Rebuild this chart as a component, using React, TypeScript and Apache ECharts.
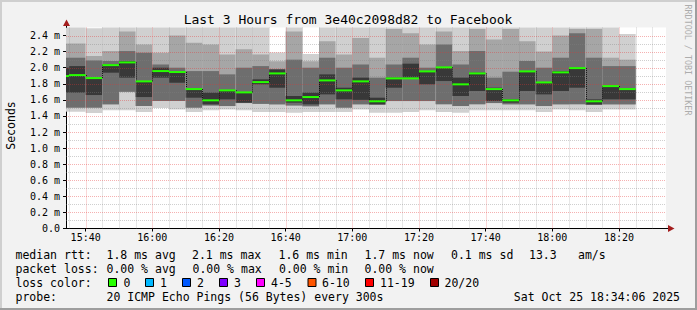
import React, { useEffect, useRef } from "react";
import * as echarts from "echarts";

// ---------- data (times are HH:MM, values in milliseconds) ----------
const WINDOW_START = "15:34:06";
const WINDOW_HOURS = 3;

const barStarts = [
  "15:30", "15:35", "15:40", "15:45", "15:50", "15:55", "16:00", "16:05", "16:10", "16:15",
  "16:20", "16:25", "16:30", "16:35", "16:40", "16:45", "16:50", "16:55", "17:00", "17:05",
  "17:10", "17:15", "17:20", "17:25", "17:30", "17:35", "17:40", "17:45", "17:50", "17:55",
  "18:00", "18:05", "18:10", "18:15", "18:20",
];
const BAR_MINUTES = 5;

const medianMs = [1.896, 1.908, 1.871, 2.032, 2.066, 1.83, 1.958, 1.946, 1.734, 1.594, 1.718, 1.693, 1.821, 1.929, 1.594, 1.635, 1.842, 1.718, 1.83, 1.582, 1.867, 1.867, 1.954, 2.004, 1.793, 1.929, 1.734, 1.594, 1.954, 1.817, 1.942, 1.995, 1.582, 1.771, 1.734];
const maxMs = [2.5, 2.5, 2.49, 2.5, 2.5, 2.5, 2.5, 2.5, 2.5, 2.5, 2.5, 2.5, 2.5, 2.19, 2.5, 2.17, 2.5, 2.5, 2.5, 2.5, 2.5, 2.5, 2.5, 2.5, 2.5, 2.5, 2.5, 2.5, 2.5, 2.5, 2.5, 2.5, 2.5, 2.5, 2.42];
const upperLightMs = [2.3, 2.3, 2.145, 2.207, 2.45, 2.29, 2.186, 2.4, 2.31, 2.29, 2.165, 2.23, 2.165, 2.08, 2.45, 2.08, 2.33, 2.165, 2.37, 2.124, 2.48, 2.43, 2.29, 2.45, 2.207, 2.48, 2.35, 2.48, 2.33, 2.2, 2.4, 2.48, 2.48, 2.124, 2.1];
const upperMidMs = [2.124, 2.124, 2.09, 2.083, 2.207, 2.186, 2.04, 2.0, 1.958, 1.958, 1.917, 2.0, 2.02, 1.98, 2.1, 2.0, 2.124, 2.0, 2.04, 1.876, 2.04, 2.124, 2.0, 2.29, 2.04, 2.207, 1.876, 1.95, 2.083, 2.0, 2.124, 2.43, 2.124, 2.02, 2.02];
const coreHiMs = [2.0, 2.02, 1.87, 2.041, 2.083, 1.83, 2.0, 1.938, 1.73, 1.69, 1.718, 1.69, 1.855, 1.979, 1.648, 1.69, 1.917, 1.751, 1.876, 1.627, 1.876, 2.05, 1.958, 2.0, 1.876, 1.938, 1.751, 1.606, 1.958, 1.813, 1.958, 2.0, 1.606, 1.772, 1.73];
const coreLoMs = [1.69, 1.69, 1.66, 1.938, 1.876, 1.635, 1.876, 1.813, 1.627, 1.544, 1.606, 1.565, 1.793, 1.751, 1.565, 1.544, 1.668, 1.606, 1.6, 1.544, 1.751, 1.876, 1.793, 1.834, 1.648, 1.71, 1.586, 1.565, 1.71, 1.668, 1.71, 1.751, 1.544, 1.606, 1.606];
const lowerMidMs = [1.503, 1.503, 1.503, 1.544, 1.7, 1.523, 1.586, 1.586, 1.503, 1.53, 1.523, 1.56, 1.55, 1.544, 1.53, 1.52, 1.544, 1.503, 1.544, 1.54, 1.585, 1.585, 1.585, 1.544, 1.523, 1.544, 1.56, 1.544, 1.544, 1.523, 1.544, 1.544, 1.536, 1.544, 1.544];
const minMs = [1.453, 1.453, 1.436, 1.47, 1.47, 1.45, 1.5, 1.48, 1.45, 1.47, 1.48, 1.47, 1.45, 1.45, 1.44, 1.45, 1.45, 1.45, 1.48, 1.44, 1.44, 1.45, 1.47, 1.45, 1.44, 1.47, 1.47, 1.47, 1.47, 1.45, 1.48, 1.47, 1.45, 1.48, 1.48];

const xTickLabels = ["15:40", "16:00", "16:20", "16:40", "17:00", "17:20", "17:40", "18:00", "18:20"];
const yTickValues = [0, 0.2, 0.4, 0.6, 0.8, 1.0, 1.2, 1.4, 1.6, 1.8, 2.0, 2.2, 2.4];
const Y_MAX = 2.5;

const TITLE = "Last 3 Hours from 3e40c2098d82 to Facebook";
const rttLabel = "median rtt:";
const rttStats = ["1.8 ms avg", "2.1 ms max", "1.6 ms min", "1.7 ms now", "0.1 ms sd", "13.3", "am/s"];
const lossLabel = "packet loss:";
const lossStats = ["0.00 % avg", "0.00 % max", "0.00 % min", "0.00 % now"];
const lossColorLabel = "loss color:";
const lossBuckets = ["0", "1", "2", "3", "4-5", "6-10", "11-19", "20/20"];
const lossColors = ["#26ff00", "#00b8ff", "#0059ff", "#7e00ff", "#ff00ff", "#ff5500", "#ff0000", "#a10000"];
const probeLabel = "probe:";
const probeText = "20 ICMP Echo Pings (56 Bytes) every 300s";
const stampText = "Sat Oct 25 18:34:06 2025";

// ---------- helpers ----------
const toMin = (s: string) => {
  const p = s.split(":").map(Number);
  return p[0] * 60 + p[1] + (p[2] || 0) / 60;
};
const fmtTime = (v: number) => {
  const h = Math.floor(v / 60 + 1e-6);
  const m = Math.round(v - h * 60);
  return `${h}:${String(m).padStart(2, "0")}`;
};

const xMin = toMin(WINDOW_START);
const xMax = xMin + WINDOW_HOURS * 60;
const MONO = '"DejaVu Sans Mono", monospace';

const SMOKE_LIGHT = "#d0d0d0";
const SMOKE_MIDLIGHT = "#a6a6a6";
const SMOKE_MID = "#6e6e6e";
const SMOKE_CORE = "#383838";

export default function App() {
  const ref = useRef<HTMLDivElement>(null);

  useEffect(() => {
    if (!ref.current) return;
    const chart = echarts.init(ref.current, null, { renderer: "svg" });

    const smokeData = barStarts.map((t, i) => {
      const t0 = toMin(t);
      return [t0, t0 + BAR_MINUTES, minMs[i], lowerMidMs[i], coreLoMs[i], coreHiMs[i], upperMidMs[i], upperLightMs[i], maxMs[i]];
    });
    const medianData = barStarts.map((t, i) => {
      const t0 = toMin(t);
      return [t0, t0 + BAR_MINUTES, medianMs[i], i > 0 ? medianMs[i - 1] : medianMs[i]];
    });

    // grid lines: [orientation (0 vertical / 1 horizontal), value, major]
    const xTickValues = xTickLabels.map(toMin);
    const gridData: number[][] = [];
    for (let t = Math.ceil(xMin / 5) * 5; t < xMax; t += 5) {
      gridData.push([0, t, t % 20 === 0 ? 1 : 0]);
    }
    for (let k = 1; k <= 24; k++) {
      gridData.push([1, k / 10, k % 2 === 0 ? 1 : 0]);
    }

    const clamp = (v: number, a: number, b: number) => Math.max(a, Math.min(b, v));

    const option: any = {
      animation: false,
      backgroundColor: "#f2f2f2",
      grid: { left: 66, top: 27.5, width: 600, height: 201, show: true, backgroundColor: "#ffffff", borderWidth: 0 },
      xAxis: {
        type: "value",
        min: xMin,
        max: xMax,
        axisLine: { show: true, lineStyle: { color: "#000", width: 1 } },
        axisTick: { show: true, length: 3, customValues: xTickValues, lineStyle: { color: "#000" } },
        axisLabel: {
          customValues: xTickValues,
          formatter: (v: number) => fmtTime(v),
          fontFamily: MONO,
          fontSize: 10,
          color: "#000",
          margin: 4,
        },
        splitLine: { show: false },
      },
      yAxis: {
        type: "value",
        min: 0,
        max: Y_MAX,
        axisLine: { show: true, lineStyle: { color: "#000", width: 1 } },
        axisTick: { show: true, length: 3, customValues: yTickValues, lineStyle: { color: "#000" } },
        axisLabel: {
          customValues: yTickValues,
          formatter: (v: number) => (v === 0 ? "0.0" : `${v.toFixed(1)} m`),
          fontFamily: MONO,
          fontSize: 10,
          color: "#000",
          margin: 6,
        },
        splitLine: { show: false },
      },
      series: [
        {
          type: "custom",
          name: "smoke",
          z: 2,
          silent: true,
          encode: { x: [0, 1], y: [2, 8] },
          data: smokeData,
          renderItem: (params: any, api: any) => {
            const cs = params.coordSys;
            const x0 = clamp(api.coord([api.value(0), 0])[0], cs.x, cs.x + cs.width);
            const x1 = clamp(api.coord([api.value(1), 0])[0], cs.x, cs.x + cs.width);
            if (x1 <= x0) return null;
            const band = (lo: number, hi: number, fill: string) => {
              const yt = clamp(api.coord([api.value(0), hi])[1], cs.y, cs.y + cs.height);
              const yb = clamp(api.coord([api.value(0), lo])[1], cs.y, cs.y + cs.height);
              return { type: "rect", shape: { x: x0, y: yt, width: x1 - x0, height: yb - yt }, style: { fill } };
            };
            return {
              type: "group",
              children: [
                band(api.value(2), api.value(8), SMOKE_LIGHT),
                band(api.value(3), api.value(7), SMOKE_MIDLIGHT),
                band(api.value(3), api.value(6), SMOKE_MID),
                band(api.value(4), api.value(5), SMOKE_CORE),
              ],
            };
          },
        },
        {
          type: "custom",
          name: "grid",
          z: 3,
          silent: true,
          data: gridData,
          renderItem: (params: any, api: any) => {
            const cs = params.coordSys;
            const vertical = api.value(0) === 0;
            const major = api.value(2) === 1;
            const stroke = major ? "rgba(230,50,50,0.38)" : "rgba(130,130,130,0.38)";
            if (vertical) {
              const x = Math.round(api.coord([api.value(1), 0])[0]) + 0.5;
              return { type: "line", shape: { x1: x, y1: cs.y, x2: x, y2: cs.y + cs.height }, style: { stroke, lineWidth: 1, lineDash: [1, 1] } };
            }
            const y = Math.round(api.coord([xMin, api.value(1)])[1]) + 0.5;
            return { type: "line", shape: { x1: cs.x, y1: y, x2: cs.x + cs.width, y2: y }, style: { stroke, lineWidth: 1, lineDash: [1, 1] } };
          },
        },
        {
          type: "custom",
          name: "median",
          z: 4,
          silent: true,
          encode: { x: [0, 1], y: 2 },
          data: medianData,
          renderItem: (params: any, api: any) => {
            const cs = params.coordSys;
            const x0 = clamp(api.coord([api.value(0), 0])[0], cs.x, cs.x + cs.width);
            const x1 = clamp(api.coord([api.value(1), 0])[0], cs.x, cs.x + cs.width);
            if (x1 <= x0) return null;
            const y = api.coord([api.value(0), api.value(2)])[1];
            const yp = api.coord([api.value(0), api.value(3)])[1];
            const children: any[] = [];
            if (params.dataIndex > 0) {
              const xc = Math.round(x0) + 0.5;
              children.push({ type: "line", shape: { x1: xc, y1: yp, x2: xc, y2: y }, style: { stroke: "#111", lineWidth: 1, lineDash: [1, 1] } });
            }
            children.push({ type: "rect", shape: { x: x0, y: y - 1, width: x1 - x0, height: 2 }, style: { fill: lossColors[0] } });
            return { type: "group", children };
          },
        },
      ],
      graphic: buildGraphics(),
    };

    chart.setOption(option);
    return () => chart.dispose();
  }, []);

  return (
    <div style={{ position: "fixed", left: 0, top: 0, width: 697, height: 310 }}>
      <div ref={ref} style={{ width: 697, height: 310 }} />
    </div>
  );
}

function txt(text: string, x: number, y: number, extra: any = {}) {
  return {
    type: "text",
    x,
    y,
    z: 100,
    silent: true,
    style: {
      text,
      x: 0,
      y: 0,
      fill: "#000",
      fontFamily: MONO,
      fontSize: 11.5,
      textAlign: "left",
      textVerticalAlign: "middle",
      textBaseline: "middle",
      ...extra,
    },
  };
}

function buildGraphics() {
  const g: any[] = [];
  // 3D frame
  g.push({ type: "rect", z: 100, silent: true, shape: { x: 0, y: 0, width: 697, height: 2 }, style: { fill: "#cfcfcf" } });
  g.push({ type: "rect", z: 100, silent: true, shape: { x: 0, y: 0, width: 2, height: 310 }, style: { fill: "#cfcfcf" } });
  g.push({ type: "rect", z: 100, silent: true, shape: { x: 0, y: 308, width: 697, height: 2 }, style: { fill: "#9e9e9e" } });
  g.push({ type: "rect", z: 100, silent: true, shape: { x: 695, y: 0, width: 2, height: 310 }, style: { fill: "#9e9e9e" } });

  // axis extensions and arrows
  g.push({ type: "line", z: 100, silent: true, shape: { x1: 66.5, y1: 27.5, x2: 66.5, y2: 22 }, style: { stroke: "#000", lineWidth: 1 } });
  g.push({ type: "line", z: 100, silent: true, shape: { x1: 666, y1: 228.5, x2: 670, y2: 228.5 }, style: { stroke: "#000", lineWidth: 1 } });
  g.push({ type: "polygon", z: 101, silent: true, shape: { points: [[66.5, 19.5], [63, 26], [70, 26]] }, style: { fill: "#a31d1d" } });
  g.push({ type: "polygon", z: 101, silent: true, shape: { points: [[674.5, 228.5], [668, 225], [668, 232]] }, style: { fill: "#a31d1d" } });

  // title
  g.push(txt(TITLE, 348, 19, { fontSize: 13, textAlign: "center" }));
  // y axis name
  g.push({ ...txt("Seconds", 10.5, 125.5, { textAlign: "center" }), rotation: Math.PI / 2 });
  // watermark
  g.push({ ...txt("RRDTOOL / TOBI OETIKER", 688, 60, { textAlign: "center", fontSize: 8.4, fill: "#adadad" }), rotation: -Math.PI / 2 });

  // legend rows
  const r1 = 254.5, r2 = 268.5, r3 = 282.5, r4 = 296.5;
  g.push(txt(rttLabel, 15.5, r1));
  const rttX = [106.5, 192, 278.5, 364.5, 451, 529, 578];
  rttStats.forEach((s, i) => g.push(txt(s, rttX[i], r1)));
  g.push(txt(lossLabel, 15.5, r2));
  const lossX = [106.5, 192.5, 279, 364.5];
  lossStats.forEach((s, i) => g.push(txt(s, lossX[i], r2)));
  g.push(txt(lossColorLabel, 15.5, r3));
  const boxX = [108, 145, 182, 219, 256, 307.5, 365, 430];
  const bucketX = [123.5, 160, 197, 234, 271, 322, 380, 444.5];
  lossBuckets.forEach((b, i) => {
    g.push({ type: "rect", z: 100, silent: true, shape: { x: boxX[i] + 0.5, y: 278.5, width: 8, height: 8 }, style: { fill: lossColors[i], stroke: "#000", lineWidth: 1 } });
    g.push(txt(b, bucketX[i], r3));
  });
  g.push(txt(probeLabel, 15.5, r4));
  g.push(txt(probeText, 106.5, r4));
  g.push(txt(stampText, 680, r4, { textAlign: "right" }));
  return g;
}
